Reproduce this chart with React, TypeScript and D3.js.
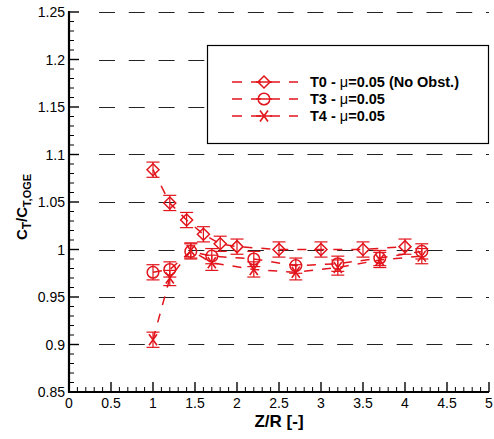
import React from "react";
import * as d3 from "d3";

const xTicks = [0, 0.5, 1, 1.5, 2, 2.5, 3, 3.5, 4, 4.5, 5];
const yTicks = [0.85, 0.9, 0.95, 1, 1.05, 1.1, 1.15, 1.2, 1.25];
const xTickLabels = ["0", "0.5", "1", "1.5", "2", "2.5", "3", "3.5", "4", "4.5", "5"];
const yTickLabels = ["0.85", "0.9", "0.95", "1", "1.05", "1.1", "1.15", "1.2", "1.25"];

const t0X = [1.0, 1.2, 1.4, 1.6, 1.8, 2.0, 2.5, 3.0, 3.5, 4.0];
const t0Y = [1.084, 1.049, 1.031, 1.016, 1.006, 1.003, 1.0, 1.0, 1.0, 1.003];
const t0Err = [0.008, 0.008, 0.008, 0.008, 0.008, 0.008, 0.008, 0.008, 0.008, 0.008];

const t3X = [1.0, 1.2, 1.45, 1.7, 2.2, 2.7, 3.2, 3.7, 4.2];
const t3Y = [0.976, 0.979, 0.998, 0.993, 0.99, 0.983, 0.985, 0.991, 0.998];
const t3Err = [0.008, 0.008, 0.008, 0.008, 0.008, 0.008, 0.008, 0.008, 0.008];

const t4X = [1.0, 1.2, 1.45, 1.7, 2.2, 2.7, 3.2, 3.7, 4.2];
const t4Y = [0.905, 0.97, 0.999, 0.986, 0.979, 0.976, 0.981, 0.989, 0.993];
const t4Err = [0.008, 0.008, 0.008, 0.008, 0.008, 0.008, 0.008, 0.008, 0.008];

const seriesPrefix = ["T0 - ", "T3 - ", "T4 - "];
const seriesSuffix = ["=0.05 (No Obst.)", "=0.05", "=0.05"];

const RED = "#e2141c";
const FONT = "'Liberation Sans', Arial, Helvetica, sans-serif";

function Marker({ kind, x, y }: { kind: string; x: number; y: number }) {
  if (kind === "diamond") {
    const s = 6;
    return (
      <path
        d={`M${x},${y - s}L${x + s},${y}L${x},${y + s}L${x - s},${y}Z`}
        fill="none"
        stroke={RED}
        strokeWidth={1.5}
      />
    );
  }
  if (kind === "circle") {
    return <circle cx={x} cy={y} r={5.8} fill="none" stroke={RED} strokeWidth={1.5} />;
  }
  const w = 4, h = 5.5;
  return (
    <path
      d={`M${x - w},${y - h}L${x + w},${y + h}M${x + w},${y - h}L${x - w},${y + h}`}
      fill="none"
      stroke={RED}
      strokeWidth={1.6}
    />
  );
}

export default function App() {
  const W = 494, H = 439;
  const x = d3.scaleLinear().domain([0, 5]).range([69, 489]);
  const y = d3.scaleLinear().domain([0.85, 1.25]).range([392, 12]);

  const series = [
    { xs: t0X, ys: t0Y, es: t0Err, kind: "diamond" },
    { xs: t3X, ys: t3Y, es: t3Err, kind: "circle" },
    { xs: t4X, ys: t4Y, es: t4Err, kind: "x" },
  ];

  const line = d3
    .line<[number, number]>()
    .x((d) => x(d[0]))
    .y((d) => y(d[1]));

  const xMinor = d3.range(0, 51).map((i) => i / 10).filter((v) => Math.abs(v * 2 - Math.round(v * 2)) > 1e-6);
  const yMinor = d3.range(85, 126).map((i) => i / 100).filter((v) => Math.abs(v * 20 - Math.round(v * 20)) > 1e-6);

  const gridVals = yTicks.filter((v) => v > 0.86);

  const legX0 = 207, legY0 = 45, legX1 = 488, legY1 = 143;
  const legRows = [82, 99, 116];

  return (
    <svg
      width={W}
      height={H}
      style={{ position: "absolute", left: 0, top: 0, background: "#fff" }}
      fontFamily={FONT}
    >
      <rect x={0} y={0} width={W} height={H} fill="#fff" />
      {gridVals.map((v) => (
        <line
          key={"g" + v}
          x1={99}
          x2={x(5)}
          y1={Math.round(y(v)) + 0.5}
          y2={Math.round(y(v)) + 0.5}
          stroke="#222"
          strokeWidth={1.2}
          strokeDasharray="16 13.77"
        />
      ))}

      {series.map((s, i) => (
        <path
          key={"l" + i}
          d={line(s.xs.map((xv, j) => [xv, s.ys[j]] as [number, number])) || ""}
          fill="none"
          stroke={RED}
          strokeWidth={1.5}
          strokeDasharray="9 9"
        />
      ))}

      {series.map((s, i) => (
        <g key={"m" + i}>
          {s.xs.map((xv, j) => {
            const cx = x(xv), cy = y(s.ys[j]);
            const yt = y(s.ys[j] + s.es[j]), yb = y(s.ys[j] - s.es[j]);
            return (
              <g key={j}>
                <line x1={cx} x2={cx} y1={yt} y2={yb} stroke={RED} strokeWidth={1.2} />
                <line x1={cx - 6.5} x2={cx + 6.5} y1={yt} y2={yt} stroke={RED} strokeWidth={1.2} />
                <line x1={cx - 6.5} x2={cx + 6.5} y1={yb} y2={yb} stroke={RED} strokeWidth={1.2} />
                <Marker kind={s.kind} x={cx} y={cy} />
              </g>
            );
          })}
        </g>
      ))}

      <line x1={69} x2={69} y1={11} y2={393} stroke="#000" strokeWidth={2.2} />
      <line x1={68} x2={489} y1={392} y2={392} stroke="#000" strokeWidth={2.2} />
      {xTicks.map((v) => (
        <line key={"xt" + v} x1={x(v)} x2={x(v)} y1={392} y2={382} stroke="#000" strokeWidth={1.4} />
      ))}
      {xMinor.map((v) => (
        <line key={"xm" + v} x1={x(v)} x2={x(v)} y1={392} y2={387} stroke="#000" strokeWidth={1} />
      ))}
      {yTicks.map((v) => (
        <line key={"yt" + v} x1={69} x2={79} y1={y(v)} y2={y(v)} stroke="#000" strokeWidth={1.4} />
      ))}
      {yMinor.map((v) => (
        <line key={"ym" + v} x1={69} x2={74} y1={y(v)} y2={y(v)} stroke="#000" strokeWidth={1} />
      ))}
      {xTicks.map((v, i) => (
        <text key={"xl" + v} x={x(v)} y={408} textAnchor="middle" fontSize={14} fill="#000">
          {xTickLabels[i]}
        </text>
      ))}
      {yTicks.map((v, i) => (
        <text key={"yl" + v} x={65} y={y(v) + 5} textAnchor="end" fontSize={14} fill="#000">
          {yTickLabels[i]}
        </text>
      ))}
      <text x={279} y={427} textAnchor="middle" fontSize={17} fontWeight="bold" fill="#000">
        Z/R [-]
      </text>
      <text
        transform="translate(27,207) rotate(-90)"
        textAnchor="middle"
        fontSize={15}
        fontWeight="bold"
        fill="#000"
      >
        C<tspan fontSize={12} dy={4}>T</tspan>
        <tspan dy={-4}>/C</tspan>
        <tspan fontSize={11} dy={4}>T,OGE</tspan>
      </text>

      <rect x={legX0 + 0.5} y={legY0 + 0.5} width={legX1 - legX0} height={legY1 - legY0} fill="#fff" stroke="#000" strokeWidth={1.2} />
      {series.map((s, i) => (
        <g key={"lg" + i}>
          <line x1={232} x2={298} y1={legRows[i]} y2={legRows[i]} stroke={RED} strokeWidth={1.5} strokeDasharray="10 9" />
          <line x1={256} x2={272} y1={legRows[i]} y2={legRows[i]} stroke={RED} strokeWidth={1.5} />
          <Marker kind={s.kind} x={264} y={legRows[i]} />
          <text x={310} y={legRows[i] + 5} fontSize={14.5} fontWeight="bold" fill="#000">
            {seriesPrefix[i]}
            <tspan fontWeight="normal">{"\u03bc"}</tspan>
            {seriesSuffix[i]}
          </text>
        </g>
      ))}
    </svg>
  );
}
